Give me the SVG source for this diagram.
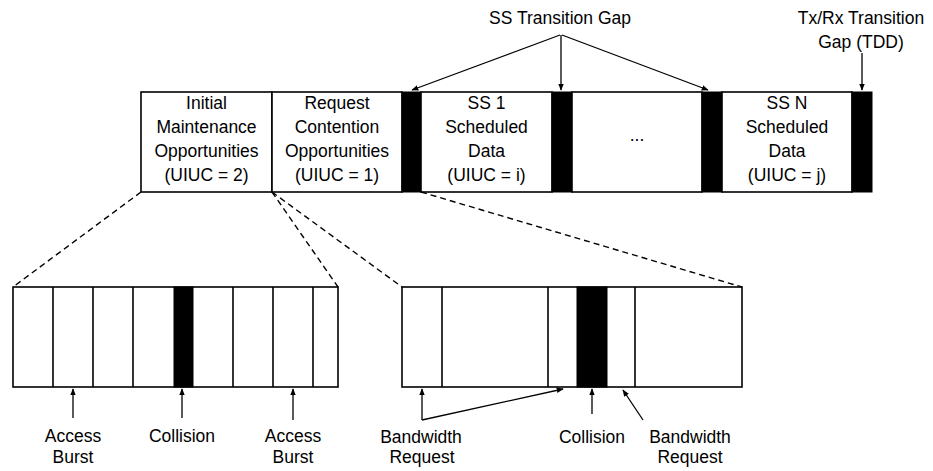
<svg xmlns="http://www.w3.org/2000/svg" width="933" height="471" viewBox="0 0 933 471">
<style>
.box{fill:#fff;stroke:#000;stroke-width:1.6}
.gap{fill:#000;stroke:#000;stroke-width:1}
.div{stroke:#000;stroke-width:1.6}
.t{font-family:"Liberation Sans",Arial,sans-serif;font-size:17.5px;fill:#000;text-anchor:middle}
.dash{stroke:#000;stroke-width:1.4;fill:none;stroke-dasharray:6,4}
.arr{stroke:#000;stroke-width:1.3;fill:none;marker-end:url(#ah)}
</style>
<defs>
<marker id="ah" viewBox="0 0 10 10" refX="9" refY="5" markerWidth="7" markerHeight="7" orient="auto" markerUnits="userSpaceOnUse">
<path d="M0,1 L10,5 L0,9 z" fill="#000"/>
</marker>
</defs>
<rect width="933" height="471" fill="#fff"/>

<g id="top-frame">
<g id="initial-maintenance">
<rect class="box" x="141" y="92" width="131" height="100"/>
<text class="t" x="206.5" y="109">Initial</text>
<text class="t" x="206.5" y="133">Maintenance</text>
<text class="t" x="206.5" y="157">Opportunities</text>
<text class="t" x="206.5" y="181">(UIUC = 2)</text>
</g>
<g id="request-contention">
<rect class="box" x="272" y="92" width="130" height="100"/>
<text class="t" x="337" y="109">Request</text>
<text class="t" x="337" y="133">Contention</text>
<text class="t" x="337" y="157">Opportunities</text>
<text class="t" x="337" y="181">(UIUC = 1)</text>
</g>
<g id="gap1"><rect class="gap" x="402" y="92" width="19" height="100"/></g>
<g id="ss1">
<rect class="box" x="421" y="92" width="131" height="100"/>
<text class="t" x="486.5" y="109">SS 1</text>
<text class="t" x="486.5" y="133">Scheduled</text>
<text class="t" x="486.5" y="157">Data</text>
<text class="t" x="486.5" y="181">(UIUC = i)</text>
</g>
<g id="gap2"><rect class="gap" x="552" y="92" width="20" height="100"/></g>
<g id="ellipsis">
<rect class="box" x="572" y="92" width="130" height="100"/>
<text class="t" x="637" y="141">...</text>
</g>
<g id="gap3"><rect class="gap" x="702" y="92" width="20" height="100"/></g>
<g id="ssn">
<rect class="box" x="722" y="92" width="130" height="100"/>
<text class="t" x="787" y="109">SS N</text>
<text class="t" x="787" y="133">Scheduled</text>
<text class="t" x="787" y="157">Data</text>
<text class="t" x="787" y="181">(UIUC = j)</text>
</g>
<g id="gap-tdd"><rect class="gap" x="852" y="92" width="20" height="100"/></g>
</g>

<g id="maintenance-detail">
<rect class="box" x="13" y="287" width="325" height="100"/>
<line class="div" x1="53" y1="287" x2="53" y2="387"/>
<line class="div" x1="93" y1="287" x2="93" y2="387"/>
<line class="div" x1="133" y1="287" x2="133" y2="387"/>
<rect class="gap" x="174" y="287" width="19" height="100"/>
<line class="div" x1="233" y1="287" x2="233" y2="387"/>
<line class="div" x1="273" y1="287" x2="273" y2="387"/>
<line class="div" x1="313" y1="287" x2="313" y2="387"/>
</g>

<g id="contention-detail">
<rect class="box" x="402" y="287" width="340" height="100"/>
<line class="div" x1="442" y1="287" x2="442" y2="387"/>
<line class="div" x1="548" y1="287" x2="548" y2="387"/>
<rect class="gap" x="577" y="287" width="30" height="100"/>
<line class="div" x1="635" y1="287" x2="635" y2="387"/>
</g>

<g id="labels">
<text class="t" x="560" y="24">SS Transition Gap</text>
<text class="t" x="861" y="24">Tx/Rx Transition</text>
<text class="t" x="861" y="48">Gap (TDD)</text>
<text class="t" x="73" y="442">Access</text>
<text class="t" x="73" y="463">Burst</text>
<text class="t" x="182" y="442">Collision</text>
<text class="t" x="293" y="442">Access</text>
<text class="t" x="293" y="463">Burst</text>
<text class="t" x="421" y="443">Bandwidth</text>
<text class="t" x="422" y="463">Request</text>
<text class="t" x="592" y="443">Collision</text>
<text class="t" x="690" y="443">Bandwidth</text>
<text class="t" x="690" y="463">Request</text>
</g>

<g id="connectors">
<line class="dash" x1="141" y1="192" x2="13" y2="287"/>
<line class="dash" x1="272" y1="192" x2="338" y2="287"/>
<line class="dash" x1="272" y1="192" x2="402" y2="287"/>
<line class="dash" x1="421" y1="192" x2="742" y2="287"/>
<line class="arr" x1="560" y1="35" x2="412" y2="90"/>
<line class="arr" x1="561" y1="35" x2="561" y2="90"/>
<line class="arr" x1="562" y1="35" x2="708" y2="90"/>
<line class="arr" x1="862" y1="53" x2="862" y2="90"/>
<line class="arr" x1="73" y1="418" x2="73" y2="389"/>
<line class="arr" x1="182" y1="418" x2="182" y2="389"/>
<line class="arr" x1="293" y1="420" x2="293" y2="389"/>
<line class="arr" x1="422" y1="420" x2="422" y2="389"/>
<line class="arr" x1="422" y1="420" x2="563" y2="389"/>
<line class="arr" x1="592" y1="414" x2="592" y2="389"/>
<line class="arr" x1="643" y1="420" x2="623" y2="390"/>
</g>
</svg>
